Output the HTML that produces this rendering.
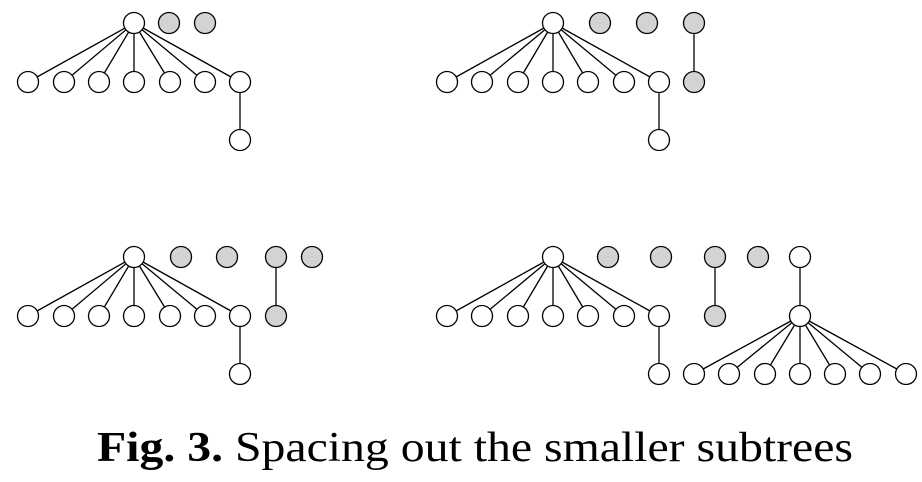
<!DOCTYPE html>
<html><head><meta charset="utf-8"><style>body{margin:0;background:#fff}svg{display:block}</style></head><body>
<svg width="922" height="482" viewBox="0 0 922 482" xmlns="http://www.w3.org/2000/svg">
<g stroke="#000" stroke-width="1.3" fill="#fff" id="g"></g>
<text x="97" y="461" font-family="Liberation Serif, serif" font-size="42" textLength="756" lengthAdjust="spacingAndGlyphs"><tspan font-weight="bold">Fig. 3.</tspan> Spacing out the smaller subtrees</text>
<script>
var g=document.getElementById('g'),N='http://www.w3.org/2000/svg',r=10.5;
function L(a,b,c,d){var e=document.createElementNS(N,'line');e.setAttribute('x1',a);e.setAttribute('y1',b);e.setAttribute('x2',c);e.setAttribute('y2',d);g.appendChild(e);}
var C=[];function O(x,y,gr){C.push([x,y,gr]);}
function fan(rx,ry,xs,cy){xs.forEach(function(x){L(rx,ry,x,cy);O(x,cy);});O(rx,ry);}
var L1=[28,64,99,134,170,205,240],R1=[447,482,518,553,588,624,659];
fan(134,23,L1,82);L(240,82,240,140);O(240,140);O(169,23,1);O(205,23,1);
fan(553,23,R1,82);L(659,82,659,140);O(659,140);O(600,23,1);O(647,23,1);L(694,23,694,82);O(694,23,1);O(694,82,1);
fan(134,257,L1,316);L(240,316,240,374);O(240,374);O(181,257,1);O(227,257,1);L(276,257,276,316);O(276,257,1);O(276,316,1);O(312,257,1);
fan(553,257,R1,316);L(659,316,659,374);O(659,374);O(608,257,1);O(661,257,1);L(715,257,715,316);O(715,257,1);O(715,316,1);O(758,257,1);
L(800,257,800,316);O(800,257);fan(800,316,[694,729,765,800,835,870,906],374);
C.forEach(function(c){var e=document.createElementNS(N,'circle');e.setAttribute('cx',c[0]);e.setAttribute('cy',c[1]);e.setAttribute('r',r);if(c[2])e.setAttribute('fill','#d3d3d3');g.appendChild(e);});
</script>
</svg>
</body></html>
